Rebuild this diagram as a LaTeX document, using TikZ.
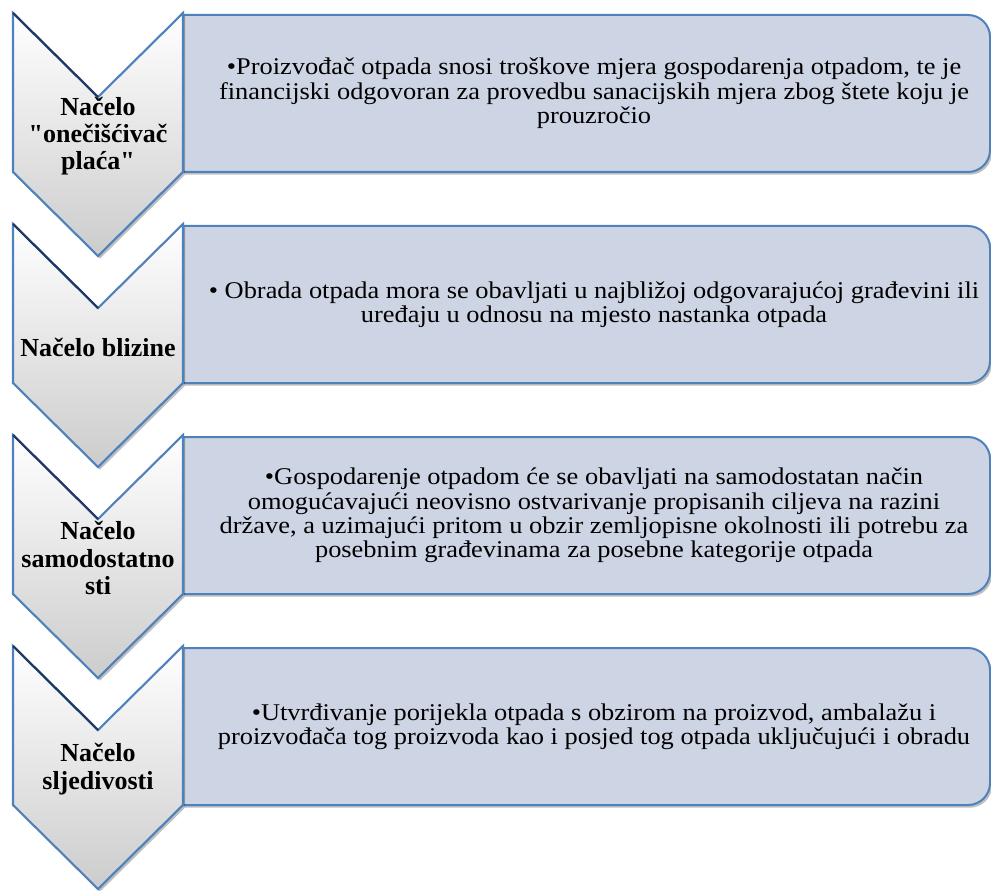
\documentclass[tikz,border=0pt]{standalone}
\usepackage{fontspec}
\setmainfont{Liberation Serif}
\newfontfamily\boxfont[FakeStretch=1.1]{Liberation Serif}
\newfontfamily\labelfont[Ligatures=TeXOff]{Liberation Serif}
\usetikzlibrary{shadows}
\definecolor{edgeblue}{RGB}{79,129,189}
\definecolor{navyedge}{RGB}{31,56,100}
\definecolor{boxfill}{RGB}{205,212,228}
\tikzset{
  boxshape/.style={fill=boxfill, draw=edgeblue, line width=1.5pt, line join=round,
    drop shadow={shadow xshift=1.5pt, shadow yshift=-2pt, opacity=0.25, fill=black}},
  chevshape/.style={draw=edgeblue, line width=1.6pt, line join=miter, top color=white, bottom color=black!20,
    drop shadow={shadow xshift=1.5pt, shadow yshift=-2pt, opacity=0.25, fill=black}},
  darkedge/.style={draw=navyedge, line width=1.6pt},
  labeltext/.style={font=\labelfont\fontsize{19.5}{20.5}\selectfont\bfseries, align=center, inner sep=0pt},
  boxtext/.style={font=\boxfont\fontsize{18}{18.3}\selectfont, align=center, inner sep=0pt}
}
\newcommand\drawstage[5]{%
  \draw[boxshape] (183,{-(#2+2)}) -- (968,{-(#2+2)}) arc[start angle=90,end angle=0,radius=16.5pt]
     -- (990,{-(#2+159)+22}) arc[start angle=0,end angle=-90,radius=16.5pt]
     -- (183,{-(#2+159)}) -- cycle;
  \draw[chevshape] (13,{-#2}) -- (98,{-(#2+84)}) -- (183,{-#2}) -- (183,{-(#2+159)})
     -- (98,{-(#2+243)}) -- (13,{-(#2+159)}) -- cycle;
  \draw[darkedge] (13,{-#2}) -- (98,{-(#2+84)});
  \node[labeltext] (n#1) at (98,{-(#2+123)}) {#3};
  \node[boxtext] (t#1) at (594,{-(#2+80.5)}) {#4};
}
\begin{document}
\begin{tikzpicture}[x=0.75pt,y=0.75pt]
\useasboundingbox (0,0) rectangle (991,-891);
\drawstage{1}{13}{Načelo\\"onečišćivač\\plaća"}{\textbullet Proizvođač otpada snosi troškove mjera gospodarenja otpadom, te je\\financijski odgovoran za provedbu sanacijskih mjera zbog štete koju je\\prouzročio}{}
\drawstage{2}{224}{Načelo blizine}{\textbullet{} Obrada otpada mora se obavljati u najbližoj odgovarajućoj građevini ili\\uređaju u odnosu na mjesto nastanka otpada}{}
\drawstage{3}{435}{Načelo\\samodostatno\\sti}{\textbullet Gospodarenje otpadom će se obavljati na samodostatan način\\omogućavajući neovisno ostvarivanje propisanih ciljeva na razini\\države, a uzimajući pritom u obzir zemljopisne okolnosti ili potrebu za\\posebnim građevinama za posebne kategorije otpada}{}
\drawstage{4}{646}{Načelo\\sljedivosti}{\textbullet Utvrđivanje porijekla otpada s obzirom na proizvod, ambalažu i\\proizvođača tog proizvoda kao i posjed tog otpada uključujući i obradu}{}
\end{tikzpicture}
\end{document}
